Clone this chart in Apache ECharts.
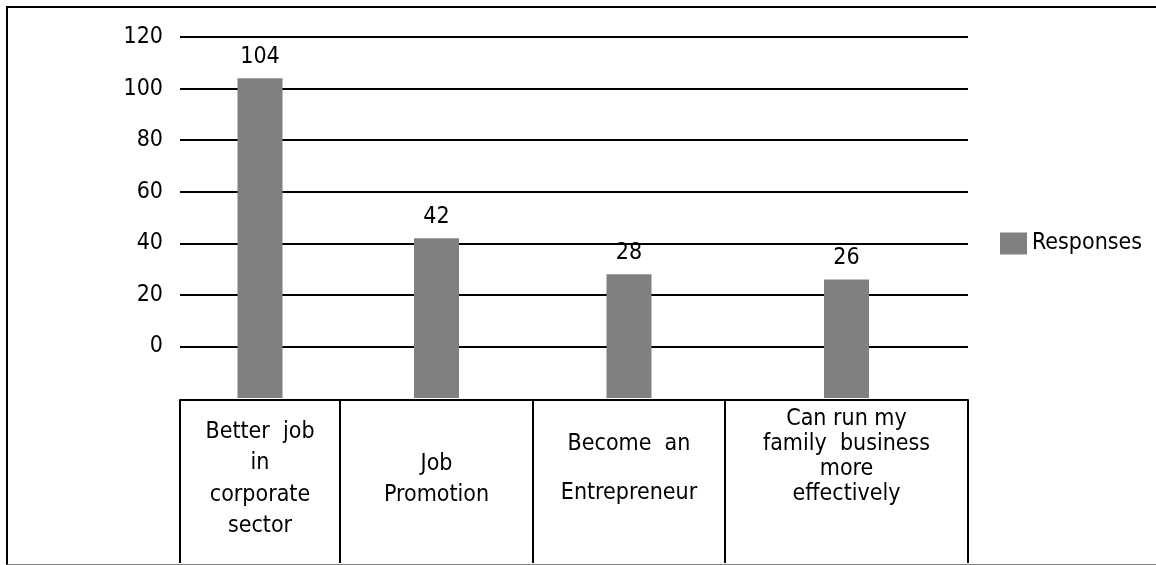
<!DOCTYPE html>
<html>
<head>
<meta charset="utf-8">
<script src="https://cdn.jsdelivr.net/npm/echarts@6/dist/echarts.min.js"></script>
<style>
  html, body { margin: 0; padding: 0; background: #fff; }
  #wrap { position: relative; width: 1156px; height: 565px; }
  #chart { position: absolute; left: 0; top: 0; width: 1156px; height: 565px; }
  #frame { position: absolute; left: 6px; top: 6px; width: 1148px; height: 556px;
           border-top: 2px solid #000; border-left: 2px solid #000; border-bottom: 1px solid #808080;
           pointer-events: none; }
</style>
</head>
<body>
<div id="wrap">
  <div id="chart"></div>
  <div id="frame"></div>
</div>
<script>
// ---- data ----
const categories = [
  'Better  job\nin\ncorporate\nsector',
  'Job\nPromotion',
  'Become  an\nEntrepreneur',
  'Can run my\nfamily  business\nmore\neffectively'
];
const responses = [104, 42, 28, 26];
const seriesName = 'Responses';
const yTicks = { min: -20, max: 120, interval: 20 };

// ---- layout (styles only) ----
const FONT = '"DejaVu Sans Condensed", "DejaVu Sans", sans-serif';
const FS = 23;
const BAR_W = 45;
const columns = [
  { left: 180, width: 160, lh: 31.5, margin: 16 },
  { left: 340, width: 193, lh: 31, margin: 49 },
  { left: 533, width: 192, lh: 49, margin: 20 },
  { left: 725, width: 243, lh: 25, margin: 7 }
];

const chart = echarts.init(document.getElementById('chart'), null, { renderer: 'canvas' });

// bars are drawn from the bottom of the value axis (as in the source chart) up to the value
function renderBar(params, api) {
  const cat = api.value(0);
  const v = api.value(1);
  const top = api.coord([cat, v]);
  const base = api.coord([cat, yTicks.min]);
  return {
    type: 'rect',
    shape: { x: top[0] - BAR_W / 2, y: top[1], width: BAR_W, height: base[1] - top[1] },
    style: { fill: '#808080' },
    textContent: { style: { text: String(v), fill: '#000', font: FS + 'px ' + FONT } },
    textConfig: { position: 'top', distance: 10 }
  };
}

const grids = [], xAxes = [], yAxes = [], series = [];
columns.forEach((c, i) => {
  grids.push({ left: c.left, width: c.width, top: 37, bottom: 167, containLabel: false });
  xAxes.push({
    type: 'category', gridIndex: i, data: [categories[i]], offset: 2, position: 'bottom',
    axisLine: { show: true, onZero: false, lineStyle: { color: '#000', width: 2 } },
    axisTick: { show: true, alignWithLabel: false, length: 163, lineStyle: { color: '#000', width: 2 } },
    axisLabel: { interval: 0, color: '#000', fontFamily: FONT, fontSize: FS,
                 lineHeight: c.lh, margin: c.margin, align: 'center' }
  });
  yAxes.push({
    type: 'value', gridIndex: i, min: yTicks.min, max: yTicks.max, interval: yTicks.interval,
    axisLine: { show: false }, axisTick: { show: false },
    splitLine: { show: true, showMinLine: false, lineStyle: { color: '#000', width: 2 } },
    axisLabel: { show: i === 0, showMinLabel: false, color: '#000', fontFamily: FONT, fontSize: FS, margin: 17,
                 formatter: v => (v < 0 ? '' : String(v)) }
  });
  series.push({
    name: seriesName, type: 'custom', xAxisIndex: i, yAxisIndex: i,
    data: [[categories[i], responses[i]]],
    encode: { x: 0, y: 1 },
    itemStyle: { color: '#808080' },
    renderItem: renderBar,
    z: 3,
    animation: false
  });
});

chart.setOption({
  animation: false,
  backgroundColor: '#fff',
  grid: grids, xAxis: xAxes, yAxis: yAxes, series: series,
  legend: {
    data: [seriesName], left: 1000, top: 232, padding: 0, icon: 'rect', itemWidth: 27, itemHeight: 22,
    itemStyle: { color: '#808080' },
    textStyle: { color: '#000', fontFamily: FONT, fontSize: FS }
  }
});
</script>
</body>
</html>
